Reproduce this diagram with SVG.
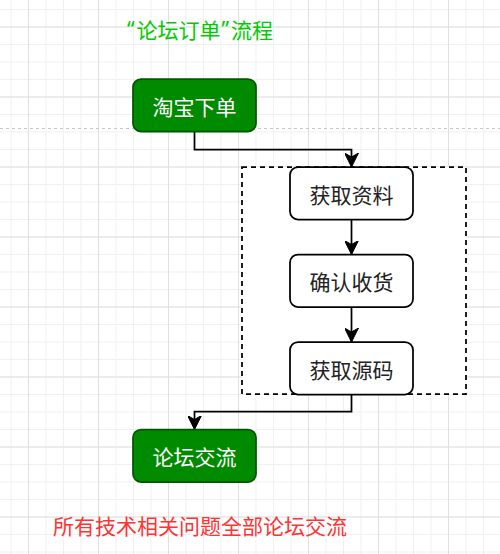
<svg xmlns="http://www.w3.org/2000/svg" width="500" height="554" viewBox="0 0 500 554">
<defs>
<pattern id="minor" x="28" y="26.5" width="17.5" height="17.5" patternUnits="userSpaceOnUse">
<path d="M0.5 0V17.5M0 0.5H17.5" fill="none" stroke="#f0f0f0" stroke-width="1"/>
</pattern>
<pattern id="major" x="28" y="26.5" width="70" height="70" patternUnits="userSpaceOnUse">
<path d="M0.5 0V70M0 0.5H70" fill="none" stroke="#e0e0e0" stroke-width="1"/>
</pattern>
<marker id="arr" viewBox="0 0 14 14" refX="14" refY="7" markerWidth="14" markerHeight="14" markerUnits="userSpaceOnUse" orient="auto">
<path d="M0 0L14 7L0 14L4 7Z" fill="#000" stroke="#000" stroke-width="1"/>
</marker>
</defs>
<style>
.green rect{fill:#008a00;stroke:#005700;stroke-width:1.75}
.green text{fill:#ffffff}
.white rect{fill:#ffffff;stroke:#000000;stroke-width:1.75}
.white text{fill:#222222}
text{font-family:"Noto Sans CJK SC","Noto Sans",sans-serif;font-size:21px;text-anchor:middle;dominant-baseline:central}
.q{font-family:"Noto Sans",sans-serif}
.conn path{fill:none;stroke:#000;stroke-width:1.75}
</style>
<rect width="500" height="554" fill="#ffffff"/>
<rect width="500" height="554" fill="url(#minor)"/>
<rect width="500" height="554" fill="url(#major)"/>
<line x1="0" y1="128.5" x2="500" y2="128.5" stroke="#c8c8c8" stroke-width="1" stroke-dasharray="3 3"/>
<g id="title"><text x="200" y="29" style="fill:#00cc00"><tspan class="q">“</tspan><tspan dx="2">论坛订单</tspan><tspan class="q" dx="1">”</tspan><tspan dx="2">流程</tspan></text></g>
<g id="container"><rect x="242" y="167" width="224" height="227" fill="#ffffff" stroke="#000" stroke-width="1.75" stroke-dasharray="5 4"/></g>
<g class="conn" id="connectors">
<path d="M194.5 131.5V149.5H351.5V167" marker-end="url(#arr)"/>
<path d="M351.5 219.5V254.5" marker-end="url(#arr)"/>
<path d="M351.5 307V342" marker-end="url(#arr)"/>
<path d="M351.5 394.5V411.5H194.5V429.5" marker-end="url(#arr)"/>
</g>
<g id="n1" class="green"><rect x="133" y="79" width="123" height="52.5" rx="8"/><text x="194.5" y="105.5">淘宝下单</text></g>
<g id="n2" class="white"><rect x="290" y="167" width="123" height="52.5" rx="8"/><text x="351.5" y="193.5">获取资料</text></g>
<g id="n3" class="white"><rect x="290" y="254.5" width="123" height="52.5" rx="8"/><text x="351.5" y="281">确认收货</text></g>
<g id="n4" class="white"><rect x="290" y="342" width="123" height="52.5" rx="8"/><text x="351.5" y="368.5">获取源码</text></g>
<g id="n5" class="green"><rect x="133" y="429.5" width="123" height="52.5" rx="8"/><text x="194.5" y="456">论坛交流</text></g>
<g id="note"><text x="200" y="525" style="fill:#ff3333">所有技术相关问题全部论坛交流</text></g>
</svg>
